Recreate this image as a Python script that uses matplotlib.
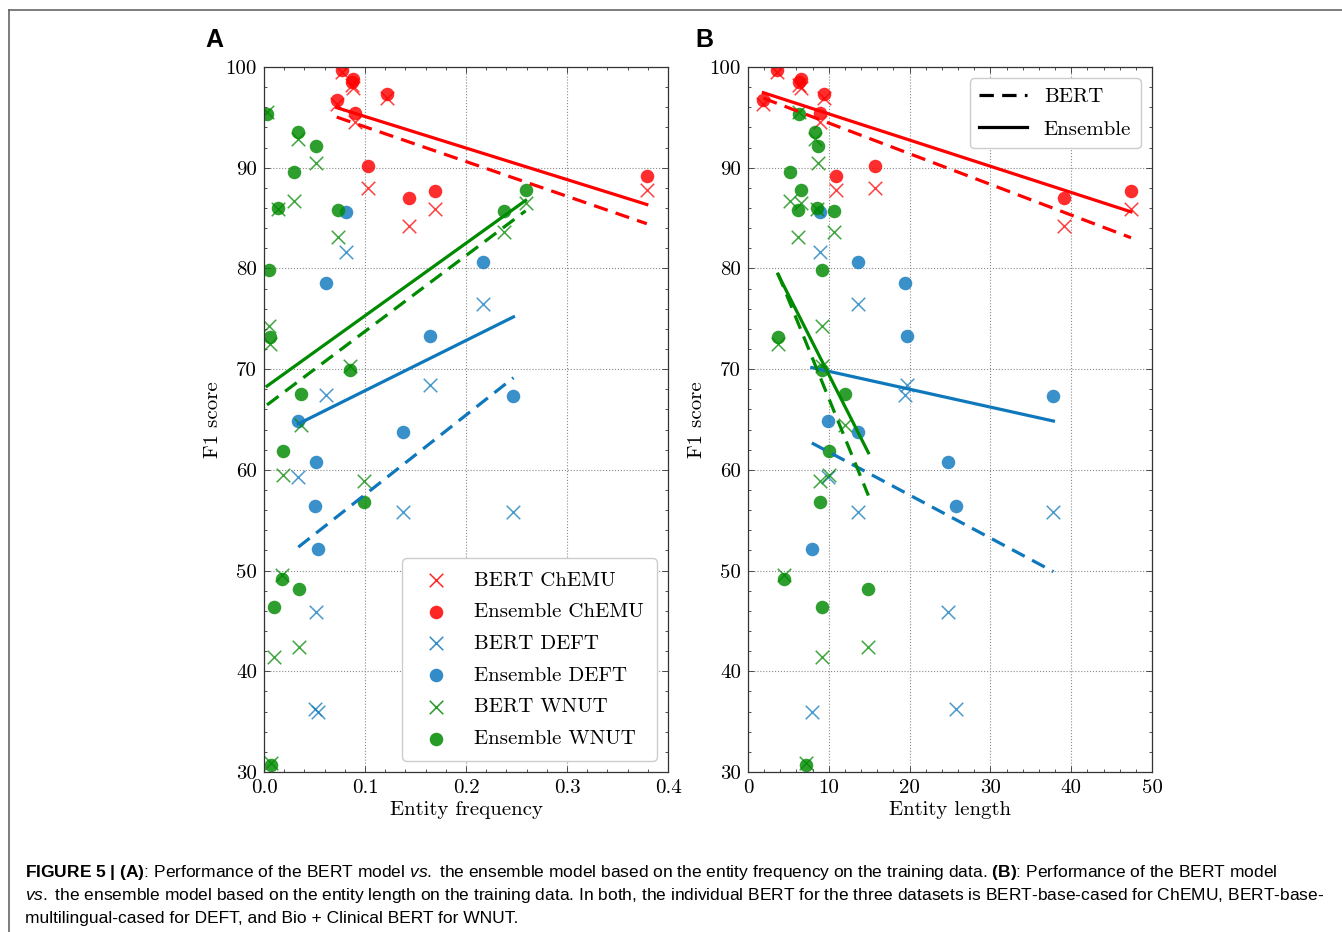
import numpy as np
import matplotlib
matplotlib.use("Agg")
from matplotlib import pyplot as plt
from matplotlib import font_manager
from matplotlib.lines import Line2D
from matplotlib.ticker import MultipleLocator

# ChEMU entities (red)
chemu_freq = [0.077, 0.087, 0.088, 0.072, 0.122, 0.090, 0.103, 0.144, 0.169, 0.379]
chemu_len = [3.6, 6.3, 6.6, 1.9, 9.4, 8.9, 15.7, 39.1, 47.4, 10.9]
chemu_bert = [99.5, 98.2, 97.9, 96.3, 96.9, 94.5, 88.0, 84.2, 85.9, 87.8]
chemu_ens = [99.7, 98.5, 98.8, 96.7, 97.3, 95.4, 90.2, 87.0, 87.7, 89.2]

# DEFT entities (blue)
deft_freq = [0.081, 0.061, 0.217, 0.164, 0.034, 0.138, 0.051, 0.050, 0.053, 0.247]
deft_len = [8.9, 19.4, 13.6, 19.7, 9.9, 13.6, 24.7, 25.8, 7.9, 37.8]
deft_bert = [81.6, 67.4, 76.5, 68.4, 59.3, 55.8, 45.9, 36.3, 36.0, 55.8]
deft_ens = [85.6, 78.6, 80.6, 73.3, 64.9, 63.8, 60.8, 56.4, 52.1, 67.3]

# WNUT entities (green)
wnut_freq = [0.003, 0.034, 0.051, 0.030, 0.014, 0.073, 0.005, 0.238, 0.259,
             0.006, 0.085, 0.037, 0.019, 0.099, 0.018, 0.035, 0.010, 0.007]
wnut_len = [6.3, 8.3, 8.7, 5.2, 8.6, 6.2, 9.1, 10.6, 6.6,
            3.7, 9.1, 12.0, 10.0, 8.9, 4.4, 14.9, 9.1, 7.2]
wnut_bert = [95.5, 92.9, 90.5, 86.7, 85.9, 83.1, 74.3, 83.6, 86.5,
             72.5, 70.3, 64.5, 59.5, 58.9, 49.6, 42.4, 41.4, 30.9]
wnut_ens = [95.3, 93.5, 92.2, 89.6, 86.0, 85.8, 79.8, 85.7, 87.8,
            73.2, 69.9, 67.5, 61.9, 56.8, 49.2, 48.2, 46.4, 30.7]

caption = [
    r"$\mathbf{FIGURE\ 5\ |\ (A)}$: Performance of the BERT model $\mathit{vs.}$ the ensemble model based on the entity frequency on the training data. $\mathbf{(B)}$: Performance of the BERT model",
    r"$\mathit{vs.}$ the ensemble model based on the entity length on the training data. In both, the individual BERT for the three datasets is BERT-base-cased for ChEMU, BERT-base-",
    "multilingual-cased for DEFT, and Bio + Clinical BERT for WNUT.",
]

names = {f.name for f in font_manager.fontManager.ttflist}
cap_font = "Liberation Sans Narrow" if "Liberation Sans Narrow" in names else "Liberation Sans"

plt.rcParams["font.family"] = "cmr10"
plt.rcParams["axes.unicode_minus"] = False
plt.rcParams["mathtext.fontset"] = "custom"
plt.rcParams["mathtext.rm"] = cap_font
plt.rcParams["mathtext.bf"] = cap_font + ":bold"
plt.rcParams["mathtext.it"] = cap_font + ":italic"

RED, BLUE, GREEN = "#ff0000", "#0f78bd", "#008a00"
sets = [
    ("ChEMU", RED, chemu_freq, chemu_len, chemu_bert, chemu_ens),
    ("DEFT", BLUE, deft_freq, deft_len, deft_bert, deft_ens),
    ("WNUT", GREEN, wnut_freq, wnut_len, wnut_bert, wnut_ens),
]
DASH = (0, (4.5, 2.6))

W, H = 1342, 932
fig = plt.figure(figsize=(W / 100, H / 100), dpi=100)
axA = fig.add_axes([264 / W, 160 / H, 404 / W, 705 / H])
axB = fig.add_axes([748 / W, 160 / H, 404 / W, 705 / H])

for ax, col in ((axA, 2), (axB, 3)):
    for name, c, *cols in sets:
        x = np.array(cols[col - 2])
        bert = np.array(cols[2])
        ens = np.array(cols[3])
        ax.scatter(x, bert, marker="x", s=95, color=c, alpha=0.75, linewidths=1.1,
                   label=f"BERT {name}")
        ax.scatter(x, ens, marker="o", s=95, color=c, alpha=0.82, linewidths=0,
                   label=f"Ensemble {name}")
        xs = np.array([x.min(), x.max()])
        pb = np.polyfit(x, bert, 1)
        pe = np.polyfit(x, ens, 1)
        ax.plot(xs, np.polyval(pb, xs), color=c, lw=2.3, linestyle=DASH)
        ax.plot(xs, np.polyval(pe, xs), color=c, lw=2.3)

    ax.set_ylim(30, 100)
    ax.yaxis.set_major_locator(MultipleLocator(10))
    ax.yaxis.set_minor_locator(MultipleLocator(2))
    ax.tick_params(which="both", direction="in", top=True, right=True,
                   labelsize=15, width=0.6, color="#333333")
    ax.tick_params(which="major", length=4.5, pad=5)
    ax.tick_params(which="minor", length=2.2)
    for s in ax.spines.values():
        s.set_linewidth(0.9)
        s.set_color("#333333")
    ax.grid(True, which="major", linestyle=":", color="#8a8a8a", lw=0.8)
    ax.set_axisbelow(True)
    ax.set_ylabel("F1 score", fontsize=15, labelpad=3)

axA.set_xlim(0, 0.4)
axA.xaxis.set_major_locator(MultipleLocator(0.1))
axA.xaxis.set_minor_locator(MultipleLocator(0.02))
axA.set_xlabel("Entity frequency", fontsize=15, labelpad=3)

axB.set_xlim(0, 50)
axB.xaxis.set_major_locator(MultipleLocator(10))
axB.xaxis.set_minor_locator(MultipleLocator(2))
axB.set_xlabel("Entity length", fontsize=15, labelpad=3)

legA = axA.legend(loc="lower right", fontsize=15, frameon=True, fancybox=True,
                  edgecolor="#cccccc", framealpha=1, borderaxespad=0.55,
                  handletextpad=0.85, labelspacing=0.63, borderpad=0.6)
for h in legA.legend_handles:
    h.set_alpha(0.85)

style_handles = [Line2D([], [], color="black", lw=2.3, linestyle=DASH),
                 Line2D([], [], color="black", lw=2.3)]
axB.legend(style_handles, ["BERT", "Ensemble"], loc="upper right", fontsize=15,
           frameon=True, fancybox=True, edgecolor="#cccccc", framealpha=1,
           borderaxespad=0.55, handlelength=2.3, handletextpad=0.8,
           labelspacing=0.65, borderpad=0.45)

fig.text(214 / W, 1 - 40 / H, "A", fontsize=18, fontweight="bold",
         family="Liberation Sans", ha="center", va="center")
fig.text(704 / W, 1 - 40 / H, "B", fontsize=18, fontweight="bold",
         family="Liberation Sans", ha="center", va="center")

# border around figure (top and left)
fig.add_artist(Line2D([9 / W, 1], [1 - 10 / H, 1 - 10 / H], color="#666666", lw=1.2,
                      transform=fig.transFigure))
fig.add_artist(Line2D([9 / W, 9 / W], [0, 1 - 10 / H], color="#666666", lw=1.2,
                      transform=fig.transFigure))

# caption
caps = []
for i, line in enumerate(caption):
    caps.append(fig.text(25 / W, 1 - (877 + 23 * i) / H, line, fontsize=12,
                         family=cap_font, ha="left", va="baseline"))
fig.canvas.draw()
r = fig.canvas.get_renderer()
wid = caps[1].get_window_extent(r).width
for t in caps:
    t.set_fontsize(12 * 1297 / wid)

fig.savefig("out.png", dpi=100)
